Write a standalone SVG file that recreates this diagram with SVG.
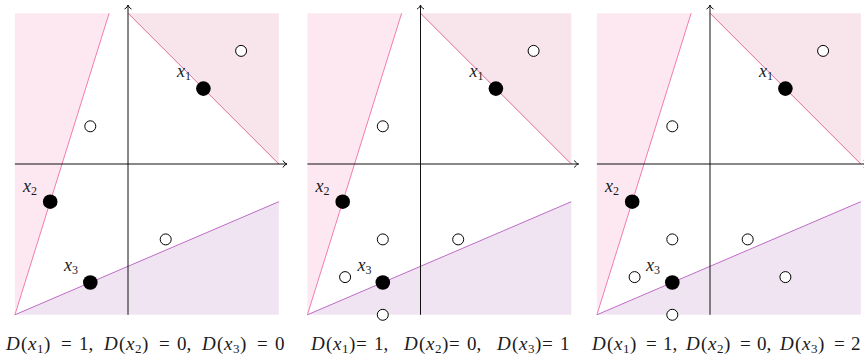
<svg xmlns="http://www.w3.org/2000/svg" width="864" height="356" viewBox="0 0 864 356">
<style>
.pl{fill:#fde8f1}
.pr{fill:#f8e4eb}
.pu{fill:#f1e4f2}
.ll{stroke:#f27db0;stroke-width:1;fill:none}
.lr{stroke:#df6c98;stroke-width:1;fill:none}
.lu{stroke:#bd6cc6;stroke-width:1;fill:none}
.ax{stroke:#111;stroke-width:1;fill:none}
.f{fill:#000}
.o{fill:#fff;stroke:#000;stroke-width:1}
.t{font-family:"Liberation Serif",serif;font-size:18px;fill:#1a1a1a}
.c{font-size:19px}
.i{font-style:italic}
.s{font-size:12px;font-style:normal}
.c .s{font-size:13px}
</style>
<defs>
<marker id="ar" markerUnits="userSpaceOnUse" markerWidth="12" markerHeight="12" refX="0" refY="0" viewBox="-6 -6 12 12" orient="auto" overflow="visible">
<path d="M-4,-3.5 C-3,-1.2 -1,-0.3 0,0 C-1,0.3 -3,1.2 -4,3.5" fill="none" stroke="#111" stroke-width="1"/>
</marker>
</defs>

<g id="panel1" transform="translate(128,164)">
<polygon class="pl" points="-113.1,-150.8 -18.85,-150.8 -113.1,150.8"/>
<polygon class="pr" points="0,-150.8 150.8,-150.8 150.8,0"/>
<polygon class="pu" points="-113.1,150.8 150.8,37.7 150.8,150.8"/>
<g id="lines1">
<line class="ll" x1="-113.1" y1="150.8" x2="-18.85" y2="-150.8"/>
<line class="lr" x1="0" y1="-150.8" x2="150.8" y2="0"/>
<line class="lu" x1="-113.1" y1="150.8" x2="150.8" y2="37.7"/>
<line class="ax" x1="-113.1" y1="0" x2="159" y2="0" marker-end="url(#ar)"/>
<line class="ax" x1="0" y1="150.8" x2="0" y2="-159" marker-end="url(#ar)"/>
</g>
<circle class="o" cx="113.1" cy="-113.1" r="5.5"/>
<circle class="o" cx="-37.7" cy="-37.7" r="5.5"/>
<circle class="o" cx="37.7" cy="75.4" r="5.5"/>
<circle class="f" cx="75.4" cy="-75.4" r="7.3"/>
<circle class="f" cx="-77.8" cy="37.7" r="7.3"/>
<circle class="f" cx="-37.7" cy="118.5" r="7.3"/>
<text class="t i" x="49" y="-87">x<tspan class="s" dy="3">1</tspan></text>
<text class="t i" x="-105" y="28">x<tspan class="s" dy="3">2</tspan></text>
<text class="t i" x="-64" y="107">x<tspan class="s" dy="3">3</tspan></text>
</g>

<g id="panel2" transform="translate(420.5,164)">
<polygon class="pl" points="-113.1,-150.8 -18.85,-150.8 -113.1,150.8"/>
<polygon class="pr" points="0,-150.8 150.8,-150.8 150.8,0"/>
<polygon class="pu" points="-113.1,150.8 150.8,37.7 150.8,150.8"/>
<g id="lines2">
<line class="ll" x1="-113.1" y1="150.8" x2="-18.85" y2="-150.8"/>
<line class="lr" x1="0" y1="-150.8" x2="150.8" y2="0"/>
<line class="lu" x1="-113.1" y1="150.8" x2="150.8" y2="37.7"/>
<line class="ax" x1="-113.1" y1="0" x2="158" y2="0" marker-end="url(#ar)"/>
<line class="ax" x1="0" y1="150.8" x2="0" y2="-159" marker-end="url(#ar)"/>
</g>
<circle class="o" cx="113.1" cy="-113.1" r="5.5"/>
<circle class="o" cx="-37.7" cy="-37.7" r="5.5"/>
<circle class="o" cx="37.7" cy="75.4" r="5.5"/>
<circle class="o" cx="-37.7" cy="75.4" r="5.5"/>
<circle class="o" cx="-75.4" cy="113.1" r="5.5"/>
<circle class="o" cx="-37.7" cy="150.8" r="5.5"/>
<circle class="f" cx="75.4" cy="-75.4" r="7.3"/>
<circle class="f" cx="-77.8" cy="37.7" r="7.3"/>
<circle class="f" cx="-37.7" cy="118.5" r="7.3"/>
<text class="t i" x="49" y="-87">x<tspan class="s" dy="3">1</tspan></text>
<text class="t i" x="-105" y="28">x<tspan class="s" dy="3">2</tspan></text>
<text class="t i" x="-63" y="107">x<tspan class="s" dy="3">3</tspan></text>
</g>

<g id="panel3" transform="translate(710,164)">
<polygon class="pl" points="-113.1,-150.8 -18.85,-150.8 -113.1,150.8"/>
<polygon class="pr" points="0,-150.8 150.8,-150.8 150.8,0"/>
<polygon class="pu" points="-113.1,150.8 150.8,37.7 150.8,150.8"/>
<g id="lines3">
<line class="ll" x1="-113.1" y1="150.8" x2="-18.85" y2="-150.8"/>
<line class="lr" x1="0" y1="-150.8" x2="150.8" y2="0"/>
<line class="lu" x1="-113.1" y1="150.8" x2="150.8" y2="37.7"/>
<line class="ax" x1="-113.1" y1="0" x2="158" y2="0" marker-end="url(#ar)"/>
<line class="ax" x1="0" y1="150.8" x2="0" y2="-159" marker-end="url(#ar)"/>
</g>
<circle class="o" cx="113.1" cy="-113.1" r="5.5"/>
<circle class="o" cx="-37.7" cy="-37.7" r="5.5"/>
<circle class="o" cx="37.7" cy="75.4" r="5.5"/>
<circle class="o" cx="-37.7" cy="75.4" r="5.5"/>
<circle class="o" cx="-75.4" cy="113.1" r="5.5"/>
<circle class="o" cx="-37.7" cy="150.8" r="5.5"/>
<circle class="o" cx="75.4" cy="113.1" r="5.5"/>
<circle class="f" cx="75.4" cy="-75.4" r="7.3"/>
<circle class="f" cx="-77.8" cy="37.7" r="7.3"/>
<circle class="f" cx="-37.7" cy="118.5" r="7.3"/>
<text class="t i" x="49" y="-87">x<tspan class="s" dy="3">1</tspan></text>
<text class="t i" x="-105" y="28">x<tspan class="s" dy="3">2</tspan></text>
<text class="t i" x="-64" y="107">x<tspan class="s" dy="3">3</tspan></text>
</g>

<g id="captions">
<text class="t c" y="350"><tspan class="i" x="6">D</tspan><tspan x="21">(</tspan><tspan class="i" x="28">x</tspan><tspan class="s" x="37" dy="3">1</tspan><tspan x="44" dy="-3">)</tspan><tspan x="61">=</tspan><tspan x="79">1,</tspan><tspan class="i" x="104">D</tspan><tspan x="119">(</tspan><tspan class="i" x="126">x</tspan><tspan class="s" x="135" dy="3">2</tspan><tspan x="142" dy="-3">)</tspan><tspan x="159">=</tspan><tspan x="177">0,</tspan><tspan class="i" x="202">D</tspan><tspan x="217">(</tspan><tspan class="i" x="224">x</tspan><tspan class="s" x="233" dy="3">3</tspan><tspan x="240" dy="-3">)</tspan><tspan x="257">=</tspan><tspan x="275">0</tspan></text>
<text class="t c" y="350"><tspan class="i" x="311">D</tspan><tspan x="326">(</tspan><tspan class="i" x="333">x</tspan><tspan class="s" x="342" dy="3">1</tspan><tspan x="349" dy="-3">)</tspan><tspan x="356">=</tspan><tspan x="374">1,</tspan><tspan class="i" x="404">D</tspan><tspan x="419">(</tspan><tspan class="i" x="426">x</tspan><tspan class="s" x="435" dy="3">2</tspan><tspan x="442" dy="-3">)</tspan><tspan x="449">=</tspan><tspan x="467">0,</tspan><tspan class="i" x="497">D</tspan><tspan x="512">(</tspan><tspan class="i" x="519">x</tspan><tspan class="s" x="528" dy="3">3</tspan><tspan x="535" dy="-3">)</tspan><tspan x="542">=</tspan><tspan x="560">1</tspan></text>
<text class="t c" y="350"><tspan class="i" x="592">D</tspan><tspan x="607">(</tspan><tspan class="i" x="614">x</tspan><tspan class="s" x="623" dy="3">1</tspan><tspan x="630" dy="-3">)</tspan><tspan x="646">=</tspan><tspan x="663">1,</tspan><tspan class="i" x="686">D</tspan><tspan x="701">(</tspan><tspan class="i" x="708">x</tspan><tspan class="s" x="717" dy="3">2</tspan><tspan x="724" dy="-3">)</tspan><tspan x="740">=</tspan><tspan x="757">0,</tspan><tspan class="i" x="780">D</tspan><tspan x="795">(</tspan><tspan class="i" x="802">x</tspan><tspan class="s" x="811" dy="3">3</tspan><tspan x="818" dy="-3">)</tspan><tspan x="834">=</tspan><tspan x="851">2</tspan></text>
</g>
</svg>
